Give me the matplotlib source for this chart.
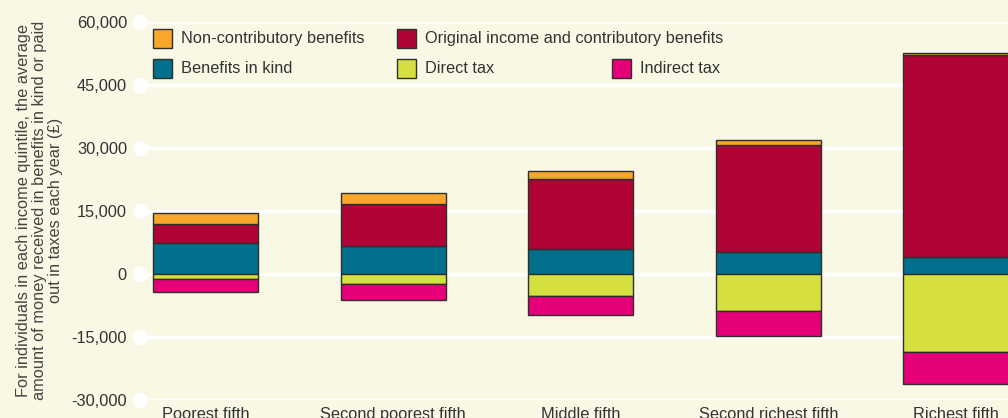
import numpy as np
import matplotlib.pyplot as plt
from matplotlib.patches import Rectangle

plt.rcParams['font.family'] = ['Liberation Sans', 'DejaVu Sans']

# Values (GBP per year)
quintiles = ["Poorest fifth", "Second poorest fifth", "Middle fifth",
             "Second richest fifth", "Richest fifth"]
benefits_in_kind = [7400, 6700, 5950, 5200, 3950]
original_income = [4450, 10000, 16700, 25550, 48050]
non_contributory = [2550, 2600, 1900, 1000, 600]
direct_tax = [-1150, -2450, -5150, -8800, -18600]
indirect_tax = [-3100, -3650, -4600, -5950, -7500]

yticks = [-30000, -15000, 0, 15000, 30000, 45000, 60000]

bg = "#f8f8e4"
c_orange = "#f9a72b"
c_red = "#b00437"
c_teal = "#00708c"
c_yellow = "#d5df3f"
c_pink = "#e5007a"
edge = "#2e2e2e"
txt = "#333333"
fs = 11.8

fig = plt.figure(figsize=(10.08, 4.18), dpi=100, facecolor=bg)
ax = fig.add_axes([139.5 / 1008, 18 / 418, 1 - 139.5 / 1008, (400 - 21.7) / 418])
ax.set_facecolor(bg)

x = np.arange(len(quintiles))
w = 0.56
bar_kw = dict(width=w, edgecolor=edge, linewidth=1.0, zorder=3)

bik = np.array(benefits_in_kind)
orig = np.array(original_income)
ncb = np.array(non_contributory)
dtx = np.array(direct_tax)
itx = np.array(indirect_tax)

ax.bar(x, bik, color=c_teal, **bar_kw)
ax.bar(x, orig, bottom=bik, color=c_red, **bar_kw)
ax.bar(x, ncb, bottom=bik + orig, color=c_orange, **bar_kw)
ax.bar(x, dtx, color=c_yellow, **bar_kw)
ax.bar(x, itx, bottom=dtx, color=c_pink, **bar_kw)

ax.set_xlim(-0.352, 4.277)
ax.set_ylim(-30000, 60000)

# white gridlines with a dot at the left end
for v in yticks:
    ax.axhline(v, color="white", linewidth=2.5, zorder=1)
ax.plot(np.full(len(yticks), ax.get_xlim()[0]), yticks, "o", color="white",
        markersize=10, clip_on=False, zorder=2)

for s in ax.spines.values():
    s.set_visible(False)

ax.set_yticks(yticks)
ax.set_yticklabels([f"{v:,}" for v in yticks], fontsize=fs, color=txt)
ax.set_xticks(x)
ax.set_xticklabels(quintiles, fontsize=fs, color=txt)
ax.tick_params(axis="y", length=0, pad=9)
ax.tick_params(axis="x", length=0, pad=5)

ax.set_ylabel("For individuals in each income quintile, the average\n"
              "amount of money received in benefits in kind or paid\n"
              "out in taxes each year (£)", fontsize=fs, color="#444444",
              labelpad=6, linespacing=1.08)

# legend drawn by hand (entries do not sit on a regular grid)
legend_items = [
    ("Non-contributory benefits", c_orange, 153, 29),
    ("Original income and contributory benefits", c_red, 397, 29),
    ("Benefits in kind", c_teal, 153, 59),
    ("Direct tax", c_yellow, 397, 59),
    ("Indirect tax", c_pink, 612, 59),
]
for label, col, px, py in legend_items:
    fig.patches.append(Rectangle((px / 1008, 1 - (py + 19) / 418), 19 / 1008, 19 / 418,
                                 transform=fig.transFigure, facecolor=col,
                                 edgecolor=edge, linewidth=1.0, zorder=5))
    fig.text((px + 28) / 1008, 1 - (py + 9.5) / 418, label, fontsize=fs,
             color=txt, va="center", ha="left")

fig.savefig("out.png", dpi=100, facecolor=bg)
